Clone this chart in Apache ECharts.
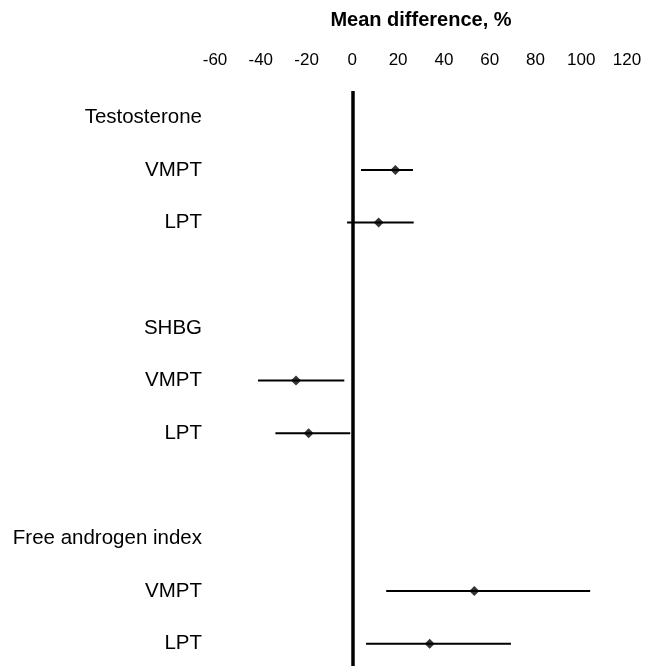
<!DOCTYPE html>
<html><head><meta charset="utf-8">
<script src="https://cdn.jsdelivr.net/npm/echarts@6/dist/echarts.min.js"></script>
<style>html,body{margin:0;padding:0;background:#fff}#c{width:648px;height:666px}</style>
</head><body><div id="c"></div>
<script>
const rowLabels = ['Testosterone','VMPT','LPT','','SHBG','VMPT','LPT','','Free androgen index','VMPT','LPT'];
const pointRows = [1, 2, 5, 6, 9, 10];
const meanValues = [18.8, 11.5, -24.6, -19.1, 53.3, 33.8];
const lowerValues = [3.8, -2.3, -41.2, -33.6, 14.8, 6.0];
const upperValues = [26.5, 26.8, -3.5, -0.9, 103.9, 69.3];
const xTicks = [-60, -40, -20, 0, 20, 40, 60, 80, 100, 120];

const font = 'Liberation Sans, Arial, sans-serif';
const chart = echarts.init(document.getElementById('c'), null, {renderer:'canvas'});
const ciData = pointRows.map((r,i)=>[r, lowerValues[i], upperValues[i]]);
const ptData = pointRows.map((r,i)=>[meanValues[i], r]);
chart.setOption({
  animation:false,
  grid:{left:215, right:21, top:91, height:579, outerBoundsMode:'none', containLabel:false},
  xAxis:{type:'value', position:'top', min:xTicks[0], max:xTicks[xTicks.length-1], interval:20,
    name:'Mean difference, %', nameLocation:'middle', nameGap:61,
    nameTextStyle:{fontFamily:font, fontSize:20, fontWeight:'bold', color:'#000'},
    axisLine:{show:false}, axisTick:{show:false}, splitLine:{show:false},
    axisLabel:{fontFamily:font, fontSize:17, color:'#000', margin:22}},
  yAxis:{type:'category', inverse:true, data:rowLabels,
    axisLine:{show:false}, axisTick:{show:false}, splitLine:{show:false},
    axisLabel:{fontFamily:font, fontSize:20.5, color:'#000', margin:13}},
  series:[
    {type:'custom', data:ciData, encode:{y:0, x:[1,2]},
     renderItem:function(params, api){
       const a = api.coord([api.value(1), api.value(0)]);
       const b = api.coord([api.value(2), api.value(0)]);
       return {type:'line', shape:{x1:a[0], y1:a[1], x2:b[0], y2:b[1]}, style:{stroke:'#000', lineWidth:2}};
     }
    },
    {type:'scatter', data:ptData, symbol:'diamond', symbolSize:10, itemStyle:{color:'#000'}, z:5,
     markLine:{silent:true, symbol:'none', label:{show:false},
       lineStyle:{color:'#000', width:3.5, type:'solid'}, data:[{xAxis:0}]}}
  ]
});
</script></body></html>
